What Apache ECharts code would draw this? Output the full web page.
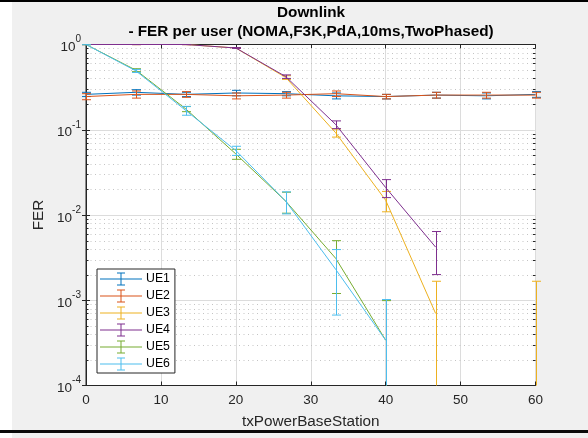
<!DOCTYPE html>
<html>
<head>
<meta charset="utf-8">
<script src="https://cdn.jsdelivr.net/npm/echarts@6/dist/echarts.min.js"></script>
<style>
  html, body { margin: 0; padding: 0; background: #f0f0f0; }
  #chart { width: 588px; height: 438px; }
</style>
</head>
<body>
<div id="chart"></div>
<script>
// Transmit power sweep (x) and frame error rate per user (null = no errors, not shown on log scale)
const txPower = [0, 6.667, 13.333, 20, 26.667, 33.333, 40, 46.667, 53.333, 60];

const ue1    = [0.26, 0.275, 0.26, 0.27, 0.265, 0.25, 0.245, 0.255, 0.25, 0.26];
const ue1Err = [0.015, 0.02, 0.015, 0.02, 0.015, 0.02, 0.015, 0.02, 0.02, 0.02];

const ue2    = [0.245, 0.26, 0.26, 0.25, 0.255, 0.265, 0.245, 0.255, 0.255, 0.255];
const ue2Err = [0.02, 0.025, 0.02, 0.02, 0.02, 0.02, 0.015, 0.02, 0.02, 0.02];

const ue3    = [1, 1, 1, 0.91, 0.41, 0.092, 0.0149, 0.0007, null, 0.0007];
const ue3Err = [0.004, 0.004, 0.004, 0.01, 0.02, 0.01, 0.004, 0.00097, 0, 0.00097];

const ue4    = [1, 1, 1, 0.91, 0.42, 0.115, 0.021, 0.0042, null, null];
const ue4Err = [0.004, 0.004, 0.004, 0.01, 0.02, 0.012, 0.005, 0.0022, 0, 0];

const ue5    = [1, 0.5, 0.175, 0.052, 0.0145, 0.0031, 0.00034, null, null, null];
const ue5Err = [0.005, 0.02, 0.012, 0.007, 0.004, 0.0019, 0.00065, 0, 0, 0];

const ue6    = [1, 0.49, 0.168, 0.057, 0.0145, 0.0023, 0.00034, null, null, null];
const ue6Err = [0.005, 0.02, 0.02, 0.007, 0.0042, 0.00163, 0.00068, 0, 0, 0];

const userNames  = ['UE1', 'UE2', 'UE3', 'UE4', 'UE5', 'UE6'];
const userValues = [ue1, ue2, ue3, ue4, ue5, ue6];
const userErrors = [ue1Err, ue2Err, ue3Err, ue4Err, ue5Err, ue6Err];
const userColors = ['#0072BD', '#D95319', '#EDB120', '#7E2F8E', '#77AC30', '#4DBEEE'];

// Axis scaffolding
const xTicks = [0, 10, 20, 30, 40, 50, 60];
const yDecades = [1e-4, 1e-3, 1e-2, 1e-1, 1];
const minorSteps = [2, 3, 4, 5, 6, 7, 8, 9];

const minorValues = [];
yDecades.slice(0, -1).forEach(d => minorSteps.forEach(k => minorValues.push(k * d)));

const FONT = 'Liberation Sans, Arial, Helvetica, sans-serif';
const AXIS_COLOR = '#262626';

const chart = echarts.init(document.getElementById('chart'), null, { renderer: 'canvas' });

// Dotted minor grid on the log axis plus short minor ticks on both y edges
const minorGridSeries = {
  type: 'custom',
  name: 'minorGrid',
  silent: true,
  z: 1,
  xAxisIndex: 0,
  yAxisIndex: 0,
  encode: { x: 0, y: 1 },
  data: minorValues.map(v => [0, v]),
  renderItem(params, api) {
    const cs = params.coordSys;
    const y = Math.round(api.coord([0, api.value(1)])[1]) + 0.5;
    const left = cs.x, right = cs.x + cs.width;
    return {
      type: 'group',
      children: [
        { type: 'line', shape: { x1: left, y1: y, x2: right, y2: y },
          style: { stroke: '#c4c4c4', lineWidth: 1, lineDash: [1, 3.5] } },
        { type: 'line', shape: { x1: left, y1: y, x2: left + 2.5, y2: y },
          style: { stroke: AXIS_COLOR, lineWidth: 1 } },
        { type: 'line', shape: { x1: right - 2.5, y1: y, x2: right, y2: y },
          style: { stroke: AXIS_COLOR, lineWidth: 1 } }
      ]
    };
  }
};

function lineSeries(i) {
  return {
    type: 'line',
    name: userNames[i],
    xAxisIndex: 0,
    yAxisIndex: 0,
    z: 3 + i,
    symbol: 'none',
    showSymbol: false,
    connectNulls: false,
    clip: true,
    lineStyle: { color: userColors[i], width: 1 },
    itemStyle: { color: userColors[i] },
    emphasis: { disabled: true },
    data: txPower.map((x, k) => [x, userValues[i][k]])
  };
}

function errorBarSeries(i) {
  const data = [];
  txPower.forEach((x, k) => {
    if (userValues[i][k] != null) data.push([x, userValues[i][k], userErrors[i][k]]);
  });
  return {
    type: 'custom',
    name: userNames[i],
    xAxisIndex: 0,
    yAxisIndex: 0,
    z: 3 + i,
    silent: true,
    encode: { x: 0, y: 1 },
    data,
    renderItem(params, api) {
      const cs = params.coordSys;
      const top = cs.y, bottom = cs.y + cs.height;
      const x = api.value(0), v = api.value(1), e = api.value(2);
      const px = Math.round(api.coord([x, v])[0]) + 0.5;
      const hi = v + e, lo = v - e;
      const yHi = api.coord([x, hi])[1];
      const yLo = lo > 0 ? api.coord([x, lo])[1] : Infinity;
      const color = userColors[i];
      const st = { stroke: color, lineWidth: 1 };
      const half = 4.5;
      const children = [
        { type: 'line', shape: { x1: px, y1: Math.max(yHi, top), x2: px, y2: Math.min(yLo, bottom) }, style: st }
      ];
      if (yHi >= top) children.push({ type: 'line', shape: { x1: px - half, y1: yHi, x2: px + half, y2: yHi }, style: st });
      if (yLo <= bottom) children.push({ type: 'line', shape: { x1: px - half, y1: yLo, x2: px + half, y2: yLo }, style: st });
      return { type: 'group', children };
    }
  };
}

const series = [minorGridSeries];
userNames.forEach((_, i) => { series.push(lineSeries(i)); series.push(errorBarSeries(i)); });

// Legend glyph: horizontal line with a capped vertical error bar
const errIcon = 'path://M0,6H42V7H0Z M20.5,0H21.5V13H20.5Z M17,0H25V1H17Z M17,12H25V13H17Z';

const option = {
  animation: false,
  backgroundColor: '#f0f0f0',
  textStyle: { fontFamily: FONT },
  title: {
    text: 'Downlink\n- FER per user (NOMA,F3K,PdA,10ms,TwoPhased)',
    left: 311,
    textAlign: 'center',
    top: 3.5,
    padding: 0,
    textStyle: { fontFamily: FONT, fontSize: 15.3, fontWeight: 'bold', color: '#000', lineHeight: 19 }
  },
  legend: {
    orient: 'vertical',
    left: 97,
    top: 269,
    padding: [3.5, 5, 2.5, 3],
    itemGap: 4,
    itemWidth: 42,
    itemHeight: 13,
    selectedMode: false,
    backgroundColor: '#fff',
    borderColor: AXIS_COLOR,
    borderWidth: 1,
    borderRadius: 0,
    textStyle: { fontFamily: FONT, fontSize: 12.3, color: '#000', padding: [0, 0, 0, -1] },
    data: userNames.map((n, i) => ({ name: n, icon: errIcon, itemStyle: { color: userColors[i] } }))
  },
  grid: {
    left: 86,
    right: 52.5,
    top: 44.5,
    bottom: 52.5,
    show: true,
    backgroundColor: '#fff',
    borderColor: AXIS_COLOR,
    borderWidth: 1,
    containLabel: false
  },
  xAxis: [
    {
      type: 'value', min: 0, max: 60, interval: 10, position: 'bottom',
      axisLine: { show: true, lineStyle: { color: AXIS_COLOR, width: 1 } },
      axisTick: { show: true, inside: true, length: 4, lineStyle: { color: AXIS_COLOR } },
      axisLabel: { fontFamily: FONT, fontSize: 13.5, color: AXIS_COLOR, margin: 7.5,
                   formatter: v => xTicks.includes(v) ? String(v) : '' },
      splitLine: { show: true, lineStyle: { color: '#dcdcdc', width: 1 } },
      name: 'txPowerBaseStation', nameLocation: 'middle', nameGap: 28.5,
      nameTextStyle: { fontFamily: FONT, fontSize: 15.3, color: AXIS_COLOR }
    },
    {
      type: 'value', min: 0, max: 60, interval: 10, position: 'top',
      axisLine: { show: true, lineStyle: { color: AXIS_COLOR, width: 1 } },
      axisTick: { show: true, inside: true, length: 4, lineStyle: { color: AXIS_COLOR } },
      axisLabel: { show: false },
      splitLine: { show: false }
    }
  ],
  yAxis: [
    {
      type: 'log', logBase: 10, min: 1e-4, max: 1, position: 'left',
      axisLine: { show: true, lineStyle: { color: AXIS_COLOR, width: 1 } },
      axisTick: { show: true, inside: true, length: 4, lineStyle: { color: AXIS_COLOR } },
      splitLine: { show: true, lineStyle: { color: '#dcdcdc', width: 1 } },
      axisLabel: {
        margin: 5,
        formatter: v => '{b|10}{s|' + Math.round(Math.log10(v)) + '}',
        rich: {
          b: { fontFamily: FONT, fontSize: 13.5, color: AXIS_COLOR, verticalAlign: 'bottom', lineHeight: 20 },
          s: { fontFamily: FONT, fontSize: 10, color: AXIS_COLOR, verticalAlign: 'top', lineHeight: 20 }
        }
      },
      name: 'FER', nameLocation: 'middle', nameGap: 36, nameRotate: 90,
      nameTextStyle: { fontFamily: FONT, fontSize: 15.3, color: AXIS_COLOR }
    },
    {
      type: 'log', logBase: 10, min: 1e-4, max: 1, position: 'right',
      axisLine: { show: true, lineStyle: { color: AXIS_COLOR, width: 1 } },
      axisTick: { show: true, inside: true, length: 4, lineStyle: { color: AXIS_COLOR } },
      axisLabel: { show: false },
      splitLine: { show: false }
    }
  ],
  graphic: [
    { type: 'rect', silent: true, z: 100, shape: { x: 0, y: 0, width: 12, height: 438 }, style: { fill: '#ffffff' } },
    { type: 'rect', silent: true, z: 101, shape: { x: 0, y: 0, width: 588, height: 2 }, style: { fill: '#000000' } },
    { type: 'rect', silent: true, z: 101, shape: { x: 0, y: 430, width: 588, height: 3 }, style: { fill: '#0a0a0a' } }
  ],
  series
};

chart.setOption(option);
</script>
</body>
</html>
